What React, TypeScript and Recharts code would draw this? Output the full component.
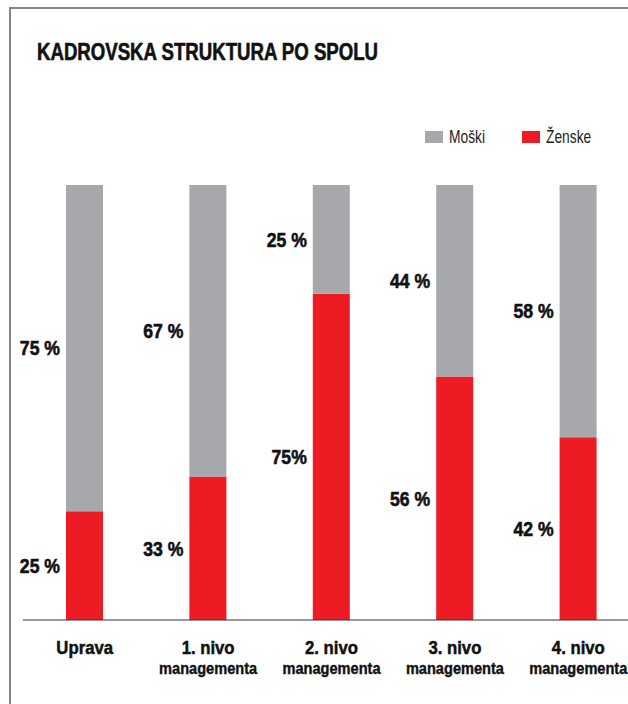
import React from "react";
import { BarChart, Bar, XAxis, YAxis, Legend, LabelList } from "recharts";

// kategorije in vrednosti (v %)
const levels = ["Uprava", "1. nivo", "2. nivo", "3. nivo", "4. nivo"];
const levelSub = ["", "managementa", "managementa", "managementa", "managementa"];
const zenske = [25, 33, 75, 56, 42];
const moski = [75, 67, 25, 44, 58];
const zenskeLabels = ["25 %", "33 %", "75%", "56 %", "42 %"];
const moskiLabels = ["75 %", "67 %", "25 %", "44 %", "58 %"];

const FONT = '"Liberation Sans", Arial, sans-serif';
const GRAY = "#a7a8ab";
const RED = "#ed1c24";

const data = levels.map((name, i) => ({
  name,
  sub: levelSub[i],
  zenske: zenske[i],
  moski: moski[i],
  zenskeLbl: zenskeLabels[i],
  moskiLbl: moskiLabels[i],
}));

// condensed look: Liberation Sans squeezed horizontally
function NarrowText({ x, y, sx, anchor = "start", size, weight = "bold", fill = "#111", heavy = 0, children }: any) {
  return (
    <text
      transform={`translate(${x} ${y}) scale(${sx} 1)`}
      textAnchor={anchor}
      fontFamily={FONT}
      fontWeight={weight}
      fontSize={size}
      fill={fill}
      stroke={heavy ? fill : "none"}
      strokeWidth={heavy}
    >
      {children}
    </text>
  );
}

function SideLabel(props: any) {
  const { x, y, height, value } = props;
  return (
    <NarrowText x={x - 6} y={y + height / 2 + 7.3} sx={0.86} anchor="end" size={20.5} heavy={0.6}>
      {value}
    </NarrowText>
  );
}

function CategoryTick(props: any) {
  const { x, y, payload, index } = props;
  return (
    <g>
      <NarrowText x={x} y={y + 33.5} sx={0.89} anchor="middle" size={18.8} heavy={0.5}>
        {payload.value}
      </NarrowText>
      {levelSub[index] ? (
        <NarrowText x={x} y={y + 54.3} sx={0.9} anchor="middle" size={16.2} heavy={0.4}>
          {levelSub[index]}
        </NarrowText>
      ) : null}
    </g>
  );
}

function LegendContent({ payload }: { payload?: any[] }) {
  const items = payload ?? [];
  return (
    <svg width={200} height={24} style={{ display: "block" }}>
      {items.map((item: any, i: number) => (
        <g key={item.value} transform={`translate(${i * 97} 0)`}>
          <rect x={0} y={6} width={18} height={12} fill={item.color} />
          <NarrowText x={24} y={18.3} sx={0.78} size={17.7} weight="normal" fill="#231f20">
            {item.value}
          </NarrowText>
        </g>
      ))}
    </svg>
  );
}

export default function App() {
  return (
    <div style={{ position: "absolute", left: 0, top: 0, width: 628, height: 704, background: "#fff", overflow: "hidden" }}>
      <div
        style={{
          position: "absolute",
          left: 9,
          top: 7,
          width: 640,
          height: 720,
          borderLeft: "2px solid #858585",
          borderTop: "2px solid #858585",
        }}
      />
      <svg width={628} height={80} style={{ position: "absolute", left: 0, top: 0 }}>
        <NarrowText x={37} y={60} sx={0.8} size={23.3} heavy={0.6}>
          KADROVSKA STRUKTURA PO SPOLU
        </NarrowText>
      </svg>
      <BarChart
        width={628}
        height={704}
        data={data}
        margin={{ top: 185, right: -12, bottom: 24, left: 23 }}
        barSize={37}
        style={{ position: "absolute", left: 0, top: 0 }}
      >
        <XAxis
          dataKey="name"
          height={60}
          tickLine={false}
          tickSize={0}
          tickMargin={0}
          interval={0}
          axisLine={{ stroke: "#333", strokeWidth: 1 }}
          tick={<CategoryTick />}
        />
        <YAxis hide domain={[0, 100]} />
        <Legend
          layout="horizontal"
          verticalAlign="middle"
          align="center"
          content={<LegendContent />}
          wrapperStyle={{ position: "absolute", top: 125, left: 425, width: 200, height: 24 }}
        />
        <Bar dataKey="zenske" name="Ženske" stackId="s" fill={RED} isAnimationActive={false}>
          <LabelList dataKey="zenskeLbl" content={<SideLabel />} />
        </Bar>
        <Bar dataKey="moski" name="Moški" stackId="s" fill={GRAY} isAnimationActive={false}>
          <LabelList dataKey="moskiLbl" content={<SideLabel />} />
        </Bar>
      </BarChart>
    </div>
  );
}
